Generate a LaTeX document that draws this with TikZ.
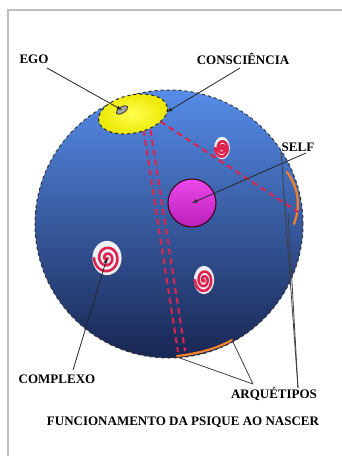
\documentclass[tikz,border=0pt]{standalone}
\usepackage{fontspec}
\setmainfont{Liberation Serif}
\usetikzlibrary{shapes.geometric}

\definecolor{psitop}{RGB}{86,140,232}
\definecolor{psimid}{RGB}{62,106,204}
\definecolor{psibot}{RGB}{24,38,82}
\definecolor{archorange}{RGB}{245,130,40}
\definecolor{selfpink}{RGB}{232,40,232}
\definecolor{swirlred}{RGB}{222,36,78}

\tikzset{
  lbl/.style={font=\bfseries\fontsize{13}{15}\selectfont, inner sep=0pt},
  ptr/.style={draw=black!85, line width=0.8pt, -latex},
  lnk/.style={draw=black!75, line width=0.8pt},
  axis/.style={draw=swirlred, line width=2pt, dash pattern=on 6pt off 4pt},
  swirl/.pic={
    \fill[white, opacity=0.92] (0,0) ellipse (1.12 and 1.18);
    \draw[swirlred, line width=2.6pt, line cap=round]
      plot[domain=0:900, samples=90, smooth]
      ({\x/900*cos(\x)}, {\x/900*sin(\x)});
  }
}

\begin{document}
\begin{tikzpicture}[x=1pt, y=-1pt]
\useasboundingbox (0,0) rectangle (342,456);
\fill[white] (0,0) rectangle (342,456);
% frame
\draw[black!25, line width=2pt] (8,456) -- (8,10) -- (342,10);

% the psyche
\node[circle, minimum size=268pt, inner sep=0pt, draw=black!80, dashed,
      line width=1pt, top color=psitop, middle color=psimid,
      bottom color=psibot] (psique) at (169,224) {};

% archetypes on the rim
\draw[archorange, line width=2.2pt, line cap=round]
  (287,172) .. controls (300,190) and (300,208) .. (294,224);
\draw[archorange, line width=2.2pt, line cap=round]
  (177,356) .. controls (196,354) and (216,349) .. (232,340);

% axes from consciousness
\coordinate (ax1) at (142,120);
\coordinate (ax2) at (149,120);
\coordinate (ax3) at (178,352);
\coordinate (ax4) at (185,351);
\coordinate (ax5) at (152,116);
\coordinate (ax6) at (298,212);
\draw[axis] (ax1) -- (ax3);
\draw[axis] (ax2) -- (ax4);
\draw[axis] (ax5) -- (ax6);

% consciousness and ego
\node[ellipse, minimum width=70pt, minimum height=38pt, rotate=12,
      inner sep=0pt, draw=black!85, dashed, line width=1pt,
      inner color=yellow!70!white, outer color={rgb,255:red,235;green,230;blue,0}]
      (consc) at (133,114) {};
\node[ellipse, minimum width=13pt, minimum height=6pt, rotate=32,
      inner sep=0pt, draw=black!80, fill=black!35, line width=0.8pt]
      (egoc) at (122,110) {};

% complexes
\path (222,148) pic[xscale=7, yscale=9.5] {swirl};
\path (107,258) pic[xscale=13, yscale=14.5] {swirl};
\path (204,280) pic[xscale=9, yscale=12] {swirl};
\coordinate (cx1) at (107,258);

% self
\node[circle, minimum size=48pt, inner sep=0pt, draw=black!70!purple,
      line width=1pt, top color=selfpink!85!white, bottom color=selfpink!80!black]
      (self) at (192,203) {};

% labels
\node[lbl] (ego) at (34,59) {EGO};
\node[lbl] (consl) at (243,59) {CONSCIÊNCIA};
\node[lbl] (selfl) at (298,147) {SELF};
\node[lbl] (compl) at (57,379) {COMPLEXO};
\node[lbl] (arql) at (274,394) {ARQUÉTIPOS};
\node[lbl] (title) at (183,422) {FUNCIONAMENTO DA PSIQUE AO NASCER};

% pointers
\coordinate (a1) at (47,68);
\coordinate (a2) at (240,68);
\coordinate (a3) at (306,153);
\coordinate (a4) at (73,370);
\coordinate (a5) at (253,384);
\coordinate (a6) at (298,388);
\draw[ptr] (a1) -- (egoc.center);
\draw[ptr] (a2) -- (167,112);
\draw[ptr] (a3) -- (self.center);
\draw[ptr] (a4) -- (cx1);
\draw[lnk] (a5) -- (177,357);
\draw[lnk] (a5) -- (232,340);
\draw[lnk] (a6) -- (281,152);
\draw[lnk] (a6) -- (288,212);
\end{tikzpicture}
\end{document}
